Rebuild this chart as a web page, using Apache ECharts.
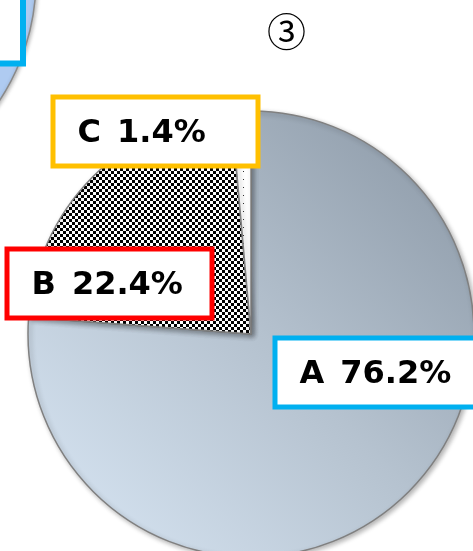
<!DOCTYPE html>
<html>
<head>
<meta charset="utf-8">
<style>
html,body{margin:0;padding:0;background:#fff;}
#chart{width:473px;height:551px;}
</style>
<script src="https://cdn.jsdelivr.net/npm/echarts@6/dist/echarts.min.js"></script>
</head>
<body>
<div id="chart"></div>
<script>
// ---- data ----
const categories = ['A', 'B', 'C'];
const shares = [76.2, 22.4, 1.4];
const labelBorderColors = ['#00b0f0', '#ff0000', '#ffc000'];
const titleText = '③';
const neighbourShares = [100];

// ---- patterns ----
function checkerPattern(cell) {
  const c = document.createElement('canvas');
  c.width = cell * 2; c.height = cell * 2;
  const g = c.getContext('2d');
  g.fillStyle = '#fff'; g.fillRect(0, 0, c.width, c.height);
  g.fillStyle = '#000';
  g.fillRect(0, 0, cell, cell);
  g.fillRect(cell, cell, cell, cell);
  return c;
}
function dotPattern() {
  const c = document.createElement('canvas');
  c.width = 8; c.height = 8;
  const g = c.getContext('2d');
  g.fillStyle = '#fff'; g.fillRect(0, 0, 8, 8);
  g.fillStyle = '#333';
  g.fillRect(3, 3, 1, 1);
  return c;
}

const fills = [
  new echarts.graphic.LinearGradient(470, 120, 40, 545, [
    { offset: 0, color: '#8a97a5' },
    { offset: 0.5, color: '#b5c2cf' },
    { offset: 1, color: '#d8e6f4' }
  ], true),
  { image: checkerPattern(3), repeat: 'repeat' },
  { image: dotPattern(), repeat: 'repeat' }
];

// label box placement (layout only)
const labelBoxX = [277.5, 9.5, 55.5];
const labelBoxY = [340.5, 251.5, 99.5];

const chart = echarts.init(document.getElementById('chart'), null, { renderer: 'canvas' });

chart.setOption({
  animation: false,
  title: {
    text: titleText,
    left: 267,
    top: 12,
    padding: 0,
    textStyle: { fontFamily: 'Noto Sans CJK JP', fontWeight: 'normal', fontSize: 39, color: '#000' }
  },
  graphic: [{
    type: 'rect',
    z: 100,
    shape: { x: -60, y: -60, width: 83, height: 123.5 },
    style: { fill: '#fff', stroke: '#00b0f0', lineWidth: 6 }
  }],
  series: [
    {
      type: 'pie',
      silent: true,
      center: [-185, -21],
      radius: 221,
      label: { show: false },
      labelLine: { show: false },
      itemStyle: {
        color: '#afcbf1', borderColor: '#8a8a8a', borderWidth: 1.5,
        shadowBlur: 4, shadowColor: 'rgba(0,0,0,0.3)', shadowOffsetX: 1, shadowOffsetY: 1
      },
      data: neighbourShares.map(v => ({ name: '', value: v }))
    },
    {
      type: 'pie',
      center: [251, 334],
      radius: 223,
      startAngle: 90,
      clockwise: true,
      avoidLabelOverlap: false,
      labelLine: { show: false },
      itemStyle: {
        borderColor: '#808080', borderWidth: 1.5,
        shadowBlur: 5, shadowColor: 'rgba(0,0,0,0.3)', shadowOffsetX: 2, shadowOffsetY: 2
      },
      label: {
        show: true,
        position: 'inside',
        formatter: p => p.name + '\u2002' + p.value.toFixed(1) + '%',
        color: '#000',
        fontFamily: 'DejaVu Sans',
        fontWeight: 'bold',
        fontSize: 32,
        backgroundColor: '#fff',
        borderWidth: 5,
        width: 178,
        height: 59,
        lineHeight: 59,
        padding: [5, 0, 0, 22],
        align: 'left',
        verticalAlign: 'top'
      },
      labelLayout: function (params) {
        const i = params.dataIndex;
        return { x: labelBoxX[i], y: labelBoxY[i], align: 'left', verticalAlign: 'top' };
      },
      data: categories.map((name, i) => ({
        name: name,
        value: shares[i],
        itemStyle: { color: fills[i] },
        label: { borderColor: labelBorderColors[i] }
      }))
    }
  ]
});
</script>
</body>
</html>
